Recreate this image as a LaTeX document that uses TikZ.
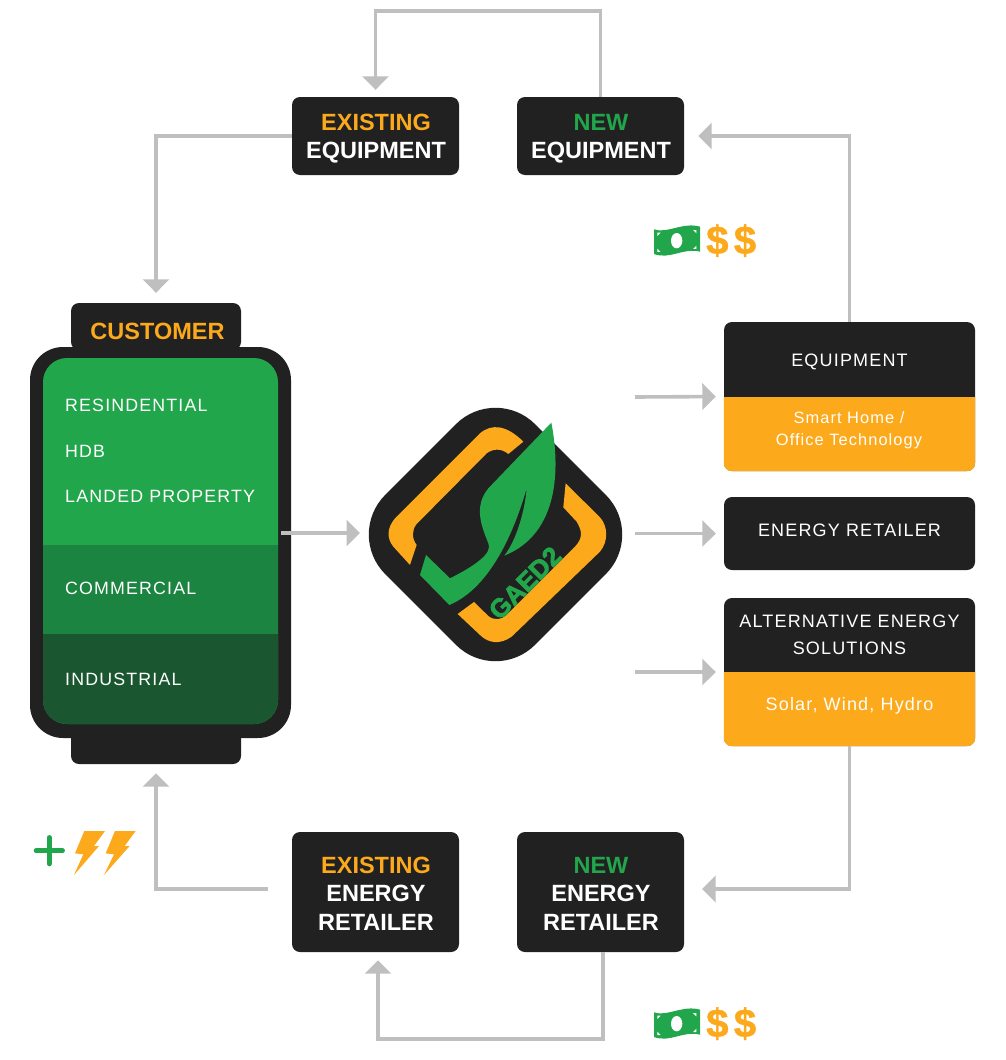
\documentclass[tikz,border=0pt]{standalone}
\usepackage{fontspec}
\setmainfont{Liberation Sans}
\newfontfamily\trackedfont[LetterSpace=6.5]{Liberation Sans}
\newfontfamily\heavyfont[FakeBold=1.2]{Liberation Sans Bold}
\newfontfamily\logofont[FakeBold=3]{Liberation Sans Bold}
\usetikzlibrary{arrows.meta}
\definecolor{panel}{HTML}{212121}
\definecolor{amber}{HTML}{FCA91C}
\definecolor{leaf}{HTML}{22A64B}
\definecolor{leafmid}{HTML}{1A8440}
\definecolor{leafdeep}{HTML}{1A5730}
\definecolor{pipe}{HTML}{BFBFBF}
\tikzset{
  panelbox/.style={fill=panel, rounded corners=8pt, inner sep=0pt, minimum width=#1},
  headline/.style={text=white, align=center, font=\fontsize{23.5}{28.5}\selectfont\bfseries},
  tracked/.style={text=white, align=center, font=\fontsize{18}{27}\selectfont\trackedfont},
  subline/.style={text=white, align=center, font=\fontsize{16.4}{22}\selectfont\trackedfont},
  segment/.style={tracked, anchor=west, inner sep=0pt, font=\fontsize{17.8}{27}\selectfont\trackedfont},
  flow/.style={draw=pipe, line width=3.6pt, -{Triangle[length=13.5pt,width=26pt]}},
  money/.pic={
    \begin{scope}[x=0.3333pt, y=-0.3333pt]
      \fill[leaf] (42,58) .. controls (80,72) and (130,35) .. (180,50) -- (180,125) .. controls (130,112) and (90,150) .. (42,132) -- cycle;
      \fill[white] (110,92) ellipse (17 and 23);
      \fill[white] (52,68) -- (62,68) -- (52,78) -- cycle;
      \fill[white] (169,60) -- (159,60) -- (169,70) -- cycle;
      \fill[white] (52,126) -- (62,126) -- (52,116) -- cycle;
      \fill[white] (169,117) -- (159,117) -- (169,107) -- cycle;
      \node[text=amber, font=\fontsize{40}{40}\selectfont\heavyfont] at (232,92) {\$};
      \node[text=amber, font=\fontsize{40}{40}\selectfont\heavyfont] at (315,92) {\$};
    \end{scope}
  }
}

\begin{document}
\begin{tikzpicture}[x=1pt, y=-1pt]

\useasboundingbox (0,0) rectangle (1005,1060);

\node[panelbox=167pt, minimum height=78pt] (oldequip) at (375.5,136) {};
\node[panelbox=167pt, minimum height=78pt] (newequip) at (600.5,136) {};
\node[panelbox=167pt, minimum height=120pt] (oldretailer) at (375.5,892) {};
\node[panelbox=167pt, minimum height=120pt] (newretailer) at (600.5,892) {};
\node[headline] (oldequiptext) at (376,138.5) {{\color{amber}EXISTING}\\EQUIPMENT};
\node[headline] (newequiptext) at (601,138.5) {{\color{leaf}NEW}\\EQUIPMENT};
\node[headline] (oldretailertext) at (376,893.5) {{\color{amber}EXISTING}\\ENERGY\\RETAILER};
\node[headline] (newretailertext) at (601,893.5) {{\color{leaf}NEW}\\ENERGY\\RETAILER};

\node[panelbox=170pt, minimum height=47pt] (customertab) at (156,326.5) {};
\node[panelbox=170pt, minimum height=47pt] (customerfoot) at (156,740.5) {};
\node[panelbox=261pt, minimum height=391pt, rounded corners=33pt] (customer) at (160.5,542.5) {};
\node[headline, text=amber] (customertitle) at (157.5,331) {CUSTOMER};

\node[fill=leaf, rounded corners=24pt, inner sep=0pt, minimum width=235pt, minimum height=366pt] (segments) at (160.5,541) {};
\fill[leafmid] (43,545) rectangle (278,634);
\fill[leafdeep, rounded corners=24pt] (43,634) -- (43,724) -- (278,724) -- (278,634);

\node[segment] (resident) at (65,405.5) {RESINDENTIAL};
\node[segment] (hdb) at (65,451.5) {HDB};
\node[segment] (landed) at (65,496.5) {LANDED PROPERTY};
\node[segment] (commercial) at (65,588.5) {COMMERCIAL};
\node[segment] (industrial) at (65,679.5) {INDUSTRIAL};

\node[panelbox=251pt, minimum height=149pt] (equipbox) at (849.5,396.5) {};
\fill[amber, rounded corners=8pt] (723.8,397) -- (723.8,471.2) -- (975.2,471.2) -- (975.2,397);
\node[tracked] (equiphead) at (849.5,361.5) {EQUIPMENT};
\node[subline] (equipsub) at (849,430.5) {Smart Home /\\Office Technology};

\node[panelbox=251pt, minimum height=73pt] (retailbox) at (849.5,533.5) {};
\node[tracked] (retailhead) at (849.5,530.5) {ENERGY RETAILER};

\node[panelbox=251pt, minimum height=148pt] (altbox) at (849.5,672) {};
\fill[amber, rounded corners=8pt] (723.8,672) -- (723.8,746.2) -- (975.2,746.2) -- (975.2,672);
\node[tracked] (althead) at (849.5,635) {ALTERNATIVE ENERGY\\SOLUTIONS};
\node[subline, font=\fontsize{18}{22}\selectfont\trackedfont] (altsub) at (849.5,706) {Solar, Wind, Hydro};

\node[fill=panel, rotate=45, rounded corners=56pt, inner sep=0pt, minimum width=212pt, minimum height=212pt] (logo) at (495.5,534.5) {};
\begin{scope}[shift={(360,400)}, x=0.3333pt, y=-0.3333pt]
  \fill[amber] (150,495) -- (100,440) .. controls (80,415) and (80,385) .. (105,355) -- (360,100) .. controls (395,70) and (440,75) .. (490,125) -- (445,162) .. controls (425,145) and (400,145) .. (380,160) -- (170,372) .. controls (155,390) and (155,415) .. (170,435) -- cycle;
  \fill[amber] (617,250) -- (720,352) .. controls (745,380) and (745,425) .. (720,455) -- (455,710) .. controls (420,735) and (385,730) .. (360,705) -- (293,642) -- (342,606) -- (385,648) .. controls (402,662) and (425,660) .. (440,645) -- (645,440) .. controls (668,415) and (668,395) .. (650,365) -- (610,322) -- cycle;
  \fill[leaf] (574,68) .. controls (600,200) and (600,400) .. (433,467) .. controls (470,420) and (495,330) .. (500,265) .. controls (470,370) and (400,560) .. (268,615) -- (180,525) -- (198,465) -- (270,535) .. controls (340,500) and (400,460) .. (385,430) .. controls (365,380) and (340,320) .. (385,265) -- cycle;
\end{scope}
\node[rotate=45, text=leaf, inner sep=0pt, font=\fontsize{26}{26}\selectfont\logofont] (logotext) at (525,583) {GAED2};

\coordinate (looptop) at (488,11);
\coordinate (loopbottom) at (490,1039);
\coordinate (logoin) at (360,533);
\coordinate (equipout) at (635,397);
\coordinate (retailout) at (635,533.5);
\coordinate (altout) at (635,672);
\coordinate (newretailerin) at (702,889);
\coordinate (oldretailerout) at (268,889);

\draw[flow, shorten >=7pt] (newequip.north) |- (looptop) -| (oldequip.north);
\draw[flow, shorten >=10pt] (oldequip.west) -| (customertab.north);
\draw[flow, shorten >=14pt] (equipbox.north) |- (newequip.east);
\draw[flow, shorten <=3pt] (segments.east |- logoin) -- (logoin);
\draw[flow, shorten >=8pt] (equipout) -- (equipbox.west);
\draw[flow, shorten >=8pt] (retailout) -- (retailbox.west);
\draw[flow, shorten >=8pt] (altout) -- (altbox.west);
\draw[flow] (altbox.south) |- (newretailerin);
\draw[flow, shorten >=8pt] ([xshift=2.5pt]newretailer.south) |- (loopbottom) -| ([xshift=2.5pt]oldretailer.south);
\draw[flow, shorten >=9pt] (oldretailerout) -| (customerfoot.south);

\pic at (640,210) {money};
\pic at (640,993) {money};

\begin{scope}[shift={(20,820)}, x=0.3333pt, y=-0.3333pt]
  \draw[leaf, line width=4.5pt, line cap=round] (48,92) -- (128,92);
  \draw[leaf, line width=4.5pt, line cap=round] (88,52) -- (88,132);
  \fill[amber] (193,33) -- (255,33) -- (222,78) -- (237,78) -- (162,165) -- (190,103) -- (165,100) -- cycle;
  \fill[amber] (285,33) -- (347,33) -- (314,78) -- (329,78) -- (252,165) -- (282,103) -- (257,100) -- cycle;
\end{scope}

\end{tikzpicture}
\end{document}
